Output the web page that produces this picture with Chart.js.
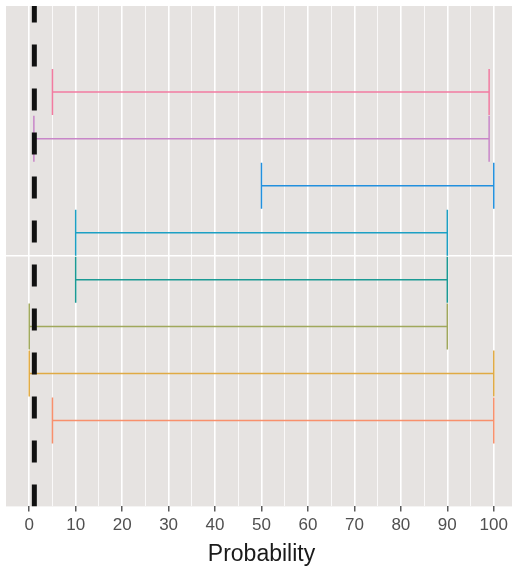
<!DOCTYPE html>
<html lang="en">
<head>
    <meta charset="UTF-8">
    <title>Probability intervals</title>
    <script src="https://cdn.jsdelivr.net/npm/chart.js"></script>
    <style>
        html, body {
            margin: 0;
            padding: 0;
            background: #ffffff;
            overflow: hidden;
        }
        .wrap {
            width: 518px;
            height: 569px;
        }
    </style>
</head>
<body>
    <div class="wrap"><canvas id="chart"></canvas></div>

    <script>
        // one row per interval, listed top to bottom
        const rows = ['A', 'B', 'C', 'D', 'E', 'F', 'G', 'H'];
        const lower = [5, 1, 50, 10, 10, 0, 0, 5];
        const upper = [99, 99, 100, 90, 90, 90, 100, 100];
        const colors = ['#F27BA0', '#C886C8', '#2290DE', '#1CA0C4', '#1A9A94', '#A0A85C', '#E0AA44', '#F8906C'];
        const refLine = 1.1;
        const xTicks = [0, 10, 20, 30, 40, 50, 60, 70, 80, 90, 100];

        const yMin = -5.33, yMax = 5.33;
        const capHalf = 0.49;

        // y position from row index, centred on 0
        const rowY = i => (rows.length - 1) / 2 - i;

        const datasets = [];
        rows.forEach((r, i) => {
            const y = rowY(i);
            const common = {
                borderColor: colors[i],
                borderWidth: 1.5,
                pointRadius: 0,
                showLine: true,
                fill: false
            };
            datasets.push(Object.assign({ label: r, data: [{x: lower[i], y: y}, {x: upper[i], y: y}] }, common));
            datasets.push(Object.assign({ label: r + ' lo', data: [{x: lower[i], y: y - capHalf}, {x: lower[i], y: y + capHalf}] }, common));
            datasets.push(Object.assign({ label: r + ' hi', data: [{x: upper[i], y: y - capHalf}, {x: upper[i], y: y + capHalf}] }, common));
        });

        // dashed reference line, drawn on top of the intervals
        datasets.push({
            label: 'ref',
            order: -1,
            data: [{x: refLine, y: yMin}, {x: refLine, y: yMax}],
            borderColor: '#111111',
            borderWidth: 5,
            borderDash: [22, 22],
            pointRadius: 0,
            showLine: true,
            fill: false
        });

        const panelBg = {
            id: 'panelBg',
            beforeDraw(chart) {
                const {ctx, chartArea: a} = chart;
                ctx.save();
                ctx.fillStyle = '#E6E3E1';
                ctx.fillRect(a.left, a.top, a.right - a.left, a.bottom - a.top);
                ctx.restore();
            }
        };

        const isMajor = v => v % 10 === 0;

        new Chart(document.getElementById('chart'), {
            type: 'scatter',
            data: { datasets: datasets },
            options: {
                responsive: true,
                maintainAspectRatio: false,
                animation: false,
                layout: { padding: { left: 6, right: 1, top: 6, bottom: 1 } },
                plugins: {
                    legend: { display: false },
                    tooltip: { enabled: false }
                },
                scales: {
                    x: {
                        type: 'linear',
                        min: -5,
                        max: 105,
                        afterBuildTicks(scale) {
                            const t = [];
                            for (let v = 0; v <= 100; v += 5) t.push({ value: v });
                            scale.ticks = t;
                        },
                        grid: {
                            color: '#ffffff',
                            lineWidth: ctx => isMajor(ctx.tick.value) ? 1.6 : 0.8,
                            tickColor: ctx => isMajor(ctx.tick.value) ? '#333333' : 'rgba(0,0,0,0)',
                            tickLength: 5,
                            tickWidth: 1.2
                        },
                        border: { display: false },
                        ticks: {
                            autoSkip: false,
                            maxRotation: 0,
                            padding: 5,
                            color: '#505050',
                            font: { family: 'Liberation Sans, Arial, sans-serif', size: 17, lineHeight: 1.0 },
                            callback: v => xTicks.includes(v) ? String(v) : ''
                        },
                        title: {
                            display: true,
                            text: 'Probability',
                            color: '#1A1A1A',
                            font: { family: 'Liberation Sans, Arial, sans-serif', size: 23 },
                            padding: { top: 2, bottom: 0 }
                        }
                    },
                    y: {
                        type: 'linear',
                        min: yMin,
                        max: yMax,
                        afterBuildTicks(scale) {
                            scale.ticks = [{ value: 0 }];
                        },
                        grid: {
                            color: '#ffffff',
                            lineWidth: 1.6,
                            drawTicks: false
                        },
                        border: { display: false },
                        ticks: { display: false }
                    }
                }
            },
            plugins: [panelBg]
        });
    </script>
</body>
</html>
